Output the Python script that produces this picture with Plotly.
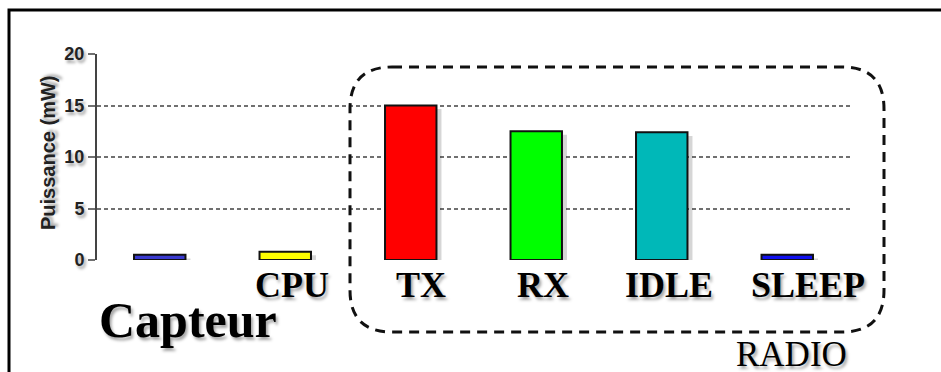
import plotly.graph_objects as go

# Power draw per component (mW)
components = ["Capteur", "CPU", "TX", "RX", "IDLE", "SLEEP"]
power_mw = [0.5, 0.8, 15.0, 12.5, 12.4, 0.5]
bar_colors = ["#3a3ad0", "#ffff00", "#ff0000", "#00ff00", "#00b8b8", "#1010f0"]
# Text written under each bar (the sensor bar is named by the big caption)
bar_labels = ["", "CPU", "TX", "RX", "IDLE", "SLEEP"]
label_shift = [0, 7, 10, 7, 7, 21]

y_ticks = [0, 5, 10, 15, 20]

W, H = 941, 372
ML, MR, MT, MB = 97, 91, 54, 112
PW, PH = W - ML - MR, H - MT - MB
BAR_W = 0.41
CAT_PX = PW / len(components)


def px(x):
    return (x - ML) / PW


def py(y):
    return (H - MB - y) / PH


SHADOW = "2px 3px 3px rgba(0,0,0,0.35)"

fig = go.Figure()
# soft drop shadow under each bar
fig.add_trace(
    go.Bar(
        x=components,
        y=power_mw,
        base=-0.35,
        width=BAR_W,
        offset=-BAR_W / 2 + 5 / CAT_PX,
        marker=dict(color="rgba(0,0,0,0.16)", line=dict(width=0)),
        hoverinfo="skip",
    )
)
fig.add_trace(
    go.Bar(
        x=components,
        y=power_mw,
        width=BAR_W,
        marker=dict(color=bar_colors, line=dict(color="#111", width=2)),
        hoverinfo="x+y",
    )
)

fig.update_layout(
    width=W,
    height=H,
    margin=dict(l=ML, r=MR, t=MT, b=MB),
    paper_bgcolor="white",
    plot_bgcolor="white",
    barmode="overlay",
    showlegend=False,
    font=dict(family="Liberation Sans", color="#222"),
)

fig.update_xaxes(
    range=[-0.5, 5.5],
    showticklabels=False,
    showgrid=False,
    zeroline=False,
    showline=False,
    ticks="",
)
fig.update_yaxes(
    range=[0, 20],
    tickvals=y_ticks,
    ticktext=[str(v) for v in y_ticks],
    tickfont=dict(size=18, color="#222", weight="bold", shadow=SHADOW),
    showgrid=True,
    gridcolor="#707070",
    gridwidth=1.5,
    griddash="4px,3px",
    zeroline=False,
    showline=True,
    linecolor="#444",
    linewidth=2,
    ticks="outside",
    ticklen=7,
    tickwidth=1.5,
    tickcolor="#707070",
    ticklabelstandoff=0,
)

# y axis title
fig.add_annotation(
    x=px(48), y=py(153), xref="paper", yref="paper",
    xanchor="center", yanchor="middle",
    text="<b>Puissance (mW)</b>", textangle=-90, showarrow=False,
    font=dict(family="Liberation Sans", size=20, color="#222", shadow=SHADOW),
)

# Labels under the bars
for comp, lab, dx in zip(components, bar_labels, label_shift):
    if not lab:
        continue
    fig.add_annotation(
        x=comp, y=py(285), xref="x", yref="paper", xshift=dx,
        xanchor="center", yanchor="middle",
        text=f"<b>{lab}</b>", showarrow=False,
        font=dict(family="Liberation Serif", size=36, color="#000", shadow=SHADOW),
    )

fig.add_annotation(
    x=px(188), y=py(320), xref="paper", yref="paper",
    xanchor="center", yanchor="middle",
    text="<b>Capteur</b>", showarrow=False,
    font=dict(family="Liberation Serif", size=50, color="#000", shadow=SHADOW),
)
fig.add_annotation(
    x=px(791), y=py(354), xref="paper", yref="paper",
    xanchor="center", yanchor="middle",
    text="RADIO", showarrow=False,
    font=dict(family="Liberation Serif", size=35, color="#000", shadow=SHADOW),
)

# Rounded dashed frame around the radio states
x0, x1, y0, y1, r = 350, 884, 67, 332, 42
path = (
    f"M {px(x0 + r)},{py(y0)} L {px(x1 - r)},{py(y0)} "
    f"Q {px(x1)},{py(y0)} {px(x1)},{py(y0 + r)} "
    f"L {px(x1)},{py(y1 - r)} Q {px(x1)},{py(y1)} {px(x1 - r)},{py(y1)} "
    f"L {px(x0 + r)},{py(y1)} Q {px(x0)},{py(y1)} {px(x0)},{py(y1 - r)} "
    f"L {px(x0)},{py(y0 + r)} Q {px(x0)},{py(y0)} {px(x0 + r)},{py(y0)} Z"
)
fig.add_shape(
    type="path", path=path, xref="paper", yref="paper",
    line=dict(color="#111", width=3, dash="10px,7px"),
)

# Outer black frame
fig.add_shape(
    type="rect", xref="paper", yref="paper",
    x0=px(9), x1=px(W + 20), y0=py(10), y1=py(H + 20),
    line=dict(color="#000", width=3),
)

fig.write_html("out.html")
